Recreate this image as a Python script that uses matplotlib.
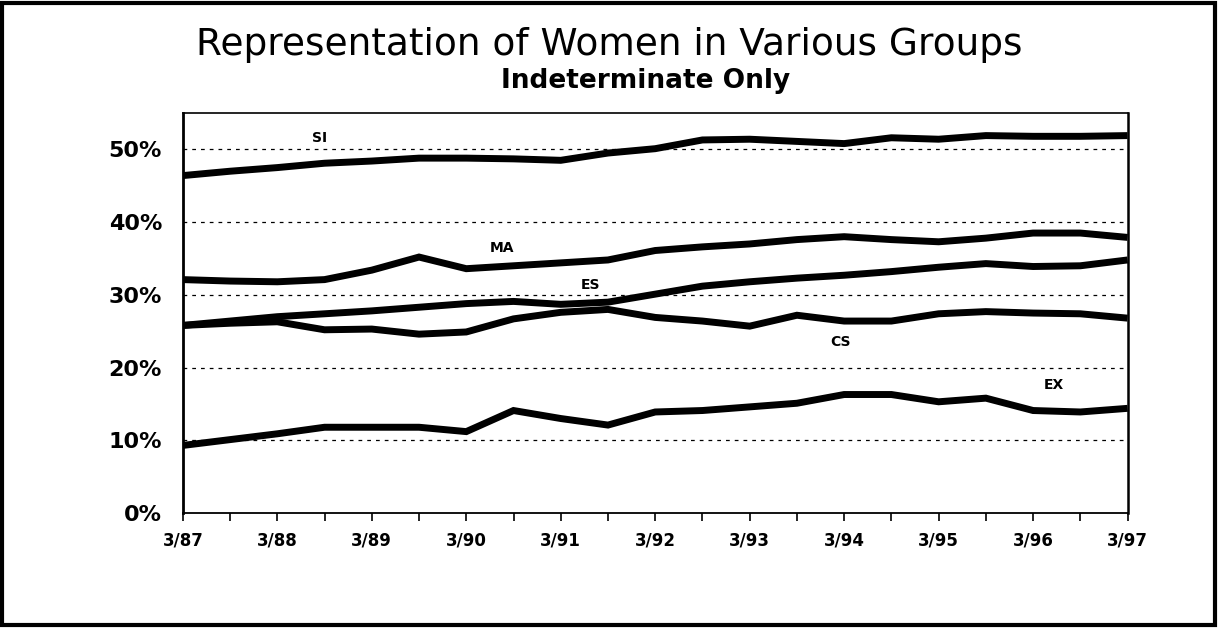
import matplotlib.pyplot as plt
import numpy as np
from matplotlib.patches import Rectangle

# half-year reporting periods, 3/87 .. 3/97
periods = ['3/87', '9/87', '3/88', '9/88', '3/89', '9/89', '3/90', '9/90',
           '3/91', '9/91', '3/92', '9/92', '3/93', '9/93', '3/94', '9/94',
           '3/95', '9/95', '3/96', '9/96', '3/97']
year_labels = ['3/87', '3/88', '3/89', '3/90', '3/91', '3/92',
               '3/93', '3/94', '3/95', '3/96', '3/97']

# percent women in each group
si = [46.4, 47.0, 47.5, 48.1, 48.4, 48.8, 48.8, 48.7, 48.5, 49.5, 50.1,
      51.3, 51.4, 51.1, 50.8, 51.6, 51.4, 51.9, 51.8, 51.8, 51.9]
ma = [32.1, 31.9, 31.8, 32.1, 33.4, 35.2, 33.6, 34.0, 34.4, 34.8, 36.1,
      36.6, 37.0, 37.6, 38.0, 37.6, 37.3, 37.8, 38.5, 38.5, 37.9]
es = [25.8, 26.4, 27.0, 27.4, 27.8, 28.3, 28.8, 29.1, 28.7, 29.0, 30.1,
      31.2, 31.8, 32.3, 32.7, 33.2, 33.8, 34.3, 33.9, 34.0, 34.8]
cs = [25.8, 26.1, 26.3, 25.2, 25.3, 24.6, 24.9, 26.7, 27.6, 28.0, 26.9,
      26.4, 25.7, 27.2, 26.4, 26.4, 27.4, 27.7, 27.5, 27.4, 26.8]
ex = [9.3, 10.1, 10.9, 11.8, 11.8, 11.8, 11.2, 14.1, 13.0, 12.1, 13.9,
      14.1, 14.6, 15.1, 16.3, 16.3, 15.3, 15.8, 14.1, 13.9, 14.4]

group_names = ['SI', 'MA', 'ES', 'CS', 'EX']
# where each group name sits (period index, percent)
name_x = [2.9, 6.75, 8.63, 13.93, 18.43]
name_y = [51.5, 36.4, 31.3, 23.5, 17.6]

y_ticks = [0, 10, 20, 30, 40, 50]
grid_levels = [10, 20, 30, 40, 50]

plt.rcParams['font.family'] = ['DejaVu Sans']

fig = plt.figure(figsize=(12.19, 6.28), dpi=100)
ax = fig.add_axes([0.150, 0.183, 0.775, 0.637])

x = np.arange(len(periods))

for lvl in grid_levels:
    ax.axhline(lvl, color='black', lw=0.9, ls=(0, (3, 4)), zorder=1)

for series in [si, ma, es, cs, ex]:
    ax.plot(x, series, color='black', lw=5, solid_joinstyle='miter',
            solid_capstyle='butt', zorder=3)

for name, nx, ny in zip(group_names, name_x, name_y):
    ax.text(nx, ny, name, ha='center', va='center', fontsize=10,
            fontweight='bold', zorder=4)

ax.set_xlim(0, len(periods) - 1)
ax.set_ylim(0, 55)

ax.set_xticks(x[::2])
ax.set_xticklabels(year_labels, fontsize=12, fontweight='bold')
ax.set_xticks(x[1::2], minor=True)
ax.tick_params(axis='x', which='both', direction='out', length=6, width=1.2, pad=7)

ax.set_yticks(y_ticks)
ax.set_yticklabels([f'{v}%' for v in y_ticks], fontsize=16, fontweight='bold')
ax.tick_params(axis='y', length=0, pad=15)

ax.spines['left'].set_linewidth(2.0)
ax.spines['bottom'].set_linewidth(1.3)
ax.spines['right'].set_linewidth(1.8)
ax.spines['top'].set_linewidth(1.2)

fig.text(0.50, 0.928, 'Representation of Women in Various Groups',
         ha='center', va='center', fontsize=27)
fig.text(0.53, 0.871, 'Indeterminate Only', ha='center', va='center',
         fontsize=19, fontweight='bold')

# outer frame around the whole page
fig.patches.append(Rectangle((0.002, 0.004), 0.995, 0.992, transform=fig.transFigure,
                             fill=False, edgecolor='black', lw=3))

fig.savefig('out.png', dpi=100)
